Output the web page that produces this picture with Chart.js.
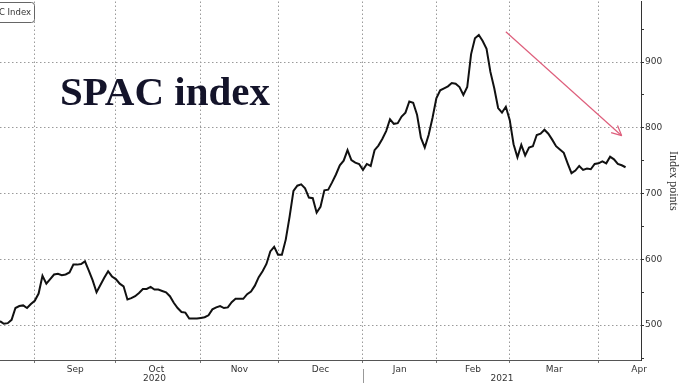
<!DOCTYPE html>
<html>
<head>
<meta charset="utf-8">
<script src="https://cdn.jsdelivr.net/npm/chart.js@4/dist/chart.umd.min.js"></script>
<style>
  html, body { margin: 0; padding: 0; background: #fff; overflow: hidden; }
  #chart { display: block; }
</style>
</head>
<body>
<canvas id="chart" width="680" height="383"></canvas>
<script>
// SPAC index, daily close, one value per trading day starting 19 Aug 2020
const spacIndex = [
  506, 502, 503, 508, 526, 529, 530, 526, 532, 537,
  548, 575, 563, 570, 577, 578, 576, 577, 580, 592,
  592, 593, 597, 583, 568, 550, 561, 572, 582, 574,
  570, 563, 559, 539, 541, 544, 549, 555, 555, 558,
  554, 554, 552, 550, 544, 534, 526, 520, 519, 510,
  510, 510, 511, 512, 515, 524, 527, 529, 526, 527,
  535, 540, 540, 540, 547, 551, 560, 573, 582, 593,
  612, 619, 607, 607, 630, 665, 704, 712, 714, 708,
  694, 693, 671, 680, 705, 706, 717, 729, 743, 750,
  766, 751, 747, 745, 736, 745, 742, 766, 773, 783,
  795, 813, 806, 807, 817, 823, 840, 838, 820, 785,
  770, 789, 815, 845, 857, 860, 863, 868, 867, 862,
  850, 862, 912, 936, 941, 932, 920, 885, 860, 830,
  823, 832, 812, 775, 755, 774, 758, 770, 772, 789,
  791, 797, 791, 782, 772, 767, 762, 746, 731, 735,
  742, 736, 738, 737, 745, 746, 749, 746, 756, 752,
  745, 743, 740
];

// trading-day index of the first session of each month, and where its label sits
const monthNames = ['Sep', 'Oct', 'Nov', 'Dec', 'Jan', 'Feb', 'Mar', 'Apr'];
const monthStart = [9, 30, 52, 72, 94, 113, 132, 155];
const monthLabelAt = [19.5, 40.5, 62, 83, 103.5, 122.5, 143.5, 165.5];
const yearNames = ['2020', '2021'];
const yearLabelAt = [40, 130];
const yearSplit = 94;

const yMajorTicks = [500, 600, 700, 800, 900];
const yMinorTicks = [450, 550, 650, 750, 850, 950];

// downward arrow annotation (trading day, index points)
const arrowFrom = [131, 946];
const arrowTo = [161, 788];

const GRID = '#9a9a9a';
const TICK_FONT = { family: 'DejaVu Sans', size: 9 };
const TINY_FONT = { family: 'DejaVu Sans', size: 1, lineHeight: 1 };

const annotations = {
  id: 'annotations',
  afterDatasetsDraw(chart) {
    const ctx = chart.ctx;
    const x = chart.scales.x;
    const area = chart.chartArea;

    // big title on the plot
    ctx.save();
    ctx.fillStyle = '#14142a';
    ctx.font = 'bold 41px "Liberation Serif"';
    ctx.textBaseline = 'alphabetic';
    ctx.fillText('SPAC index', 60, 105);
    ctx.restore();

    // legend box, cut off on the left
    ctx.save();
    ctx.fillStyle = '#fff';
    ctx.strokeStyle = '#666';
    ctx.lineWidth = 1;
    ctx.beginPath();
    ctx.roundRect(-30.5, 2.5, 65, 20, 3);
    ctx.fill();
    ctx.stroke();
    ctx.fillStyle = '#333';
    ctx.font = '8.5px "DejaVu Sans"';
    ctx.textAlign = 'right';
    ctx.textBaseline = 'middle';
    ctx.fillText('SPAC Index', 31, 13);
    ctx.restore();

    // arrow head
    const meta = chart.getDatasetMeta(1);
    const p0 = meta.data[0], p1 = meta.data[1];
    const ang = Math.atan2(p1.y - p0.y, p1.x - p0.x);
    ctx.save();
    ctx.strokeStyle = '#de5f7c';
    ctx.lineWidth = 1.2;
    ctx.beginPath();
    for (const d of [-0.45, 0.45]) {
      ctx.moveTo(p1.x, p1.y);
      ctx.lineTo(p1.x - 11 * Math.cos(ang + d), p1.y - 11 * Math.sin(ang + d));
    }
    ctx.stroke();
    ctx.restore();

    // year row
    ctx.save();
    ctx.fillStyle = '#333';
    ctx.font = '9px "DejaVu Sans"';
    ctx.textAlign = 'center';
    ctx.textBaseline = 'top';
    yearNames.forEach((y, i) => ctx.fillText(y, x.getPixelForValue(yearLabelAt[i]), area.bottom + 14));
    const sx = Math.round(x.getPixelForValue(yearSplit)) + 0.5;
    ctx.strokeStyle = '#999';
    ctx.lineWidth = 1;
    ctx.beginPath();
    ctx.moveTo(sx, area.bottom + 9);
    ctx.lineTo(sx, chart.height);
    ctx.stroke();
    ctx.restore();
  }
};

new Chart(document.getElementById('chart'), {
  type: 'line',
  data: {
    datasets: [
      {
        label: 'SPAC Index',
        data: spacIndex.map((v, i) => ({ x: i, y: v })),
        borderColor: '#111',
        borderWidth: 2,
        pointRadius: 0,
        tension: 0
      },
      {
        label: 'trend',
        data: [{ x: arrowFrom[0], y: arrowFrom[1] }, { x: arrowTo[0], y: arrowTo[1] }],
        borderColor: '#de5f7c',
        borderWidth: 1.2,
        pointRadius: 0,
        tension: 0
      }
    ]
  },
  options: {
    responsive: false,
    animation: false,
    devicePixelRatio: 1,
    layout: { padding: 0 },
    plugins: {
      legend: { display: false },
      tooltip: { enabled: false }
    },
    scales: {
      x: {
        type: 'linear',
        min: 0,
        max: 166,
        afterBuildTicks: s => {
          s.ticks = monthStart.concat(monthLabelAt).sort((a, b) => a - b).map(v => ({ value: v }));
        },
        afterFit: s => { s.height = 23; },
        ticks: {
          autoSkip: false,
          maxRotation: 0,
          padding: 1,
          color: '#333',
          font: TICK_FONT,
          callback: v => {
            const k = monthLabelAt.indexOf(v);
            return k >= 0 ? monthNames[k] : '';
          }
        },
        grid: {
          color: c => (c.tick && monthStart.includes(c.tick.value)) ? GRID : 'rgba(0,0,0,0)',
          tickColor: c => (c.tick && monthStart.includes(c.tick.value)) ? '#777' : 'rgba(0,0,0,0)',
          tickLength: 3,
          lineWidth: 1
        },
        border: { display: true, color: '#555', width: 1, dash: [1.5, 2.5] }
      },
      y: {
        type: 'linear',
        position: 'right',
        min: 447,
        max: 992,
        afterBuildTicks: s => {
          s.ticks = yMinorTicks.concat(yMajorTicks).sort((a, b) => a - b).map(v => ({ value: v }));
        },
        afterFit: s => { s.width = 39; },
        ticks: {
          padding: 1,
          color: '#333',
          font: c => (c.tick && yMajorTicks.includes(c.tick.value)) ? TICK_FONT : TINY_FONT,
          callback: v => yMajorTicks.includes(v) ? String(v) : ''
        },
        grid: {
          color: c => (c.tick && yMajorTicks.includes(c.tick.value)) ? GRID : 'rgba(0,0,0,0)',
          tickColor: '#333',
          tickLength: 3,
          lineWidth: 1
        },
        border: { display: true, color: '#333', width: 1, dash: [1.5, 2.5] },
        title: {
          display: true,
          text: 'Index points',
          color: '#333',
          font: { family: 'Liberation Serif', size: 12 },
          padding: 0
        }
      }
    }
  },
  plugins: [annotations]
});
</script>
</body>
</html>
